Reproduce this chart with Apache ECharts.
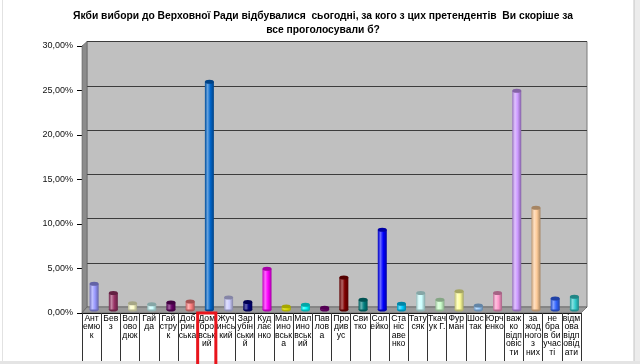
<!DOCTYPE html>
<html><head><meta charset="utf-8">
<script src="https://cdn.jsdelivr.net/npm/echarts@6/dist/echarts.min.js"></script>
<style>html,body{margin:0;padding:0;background:#fff}#c{width:640px;height:364px}</style>
</head><body><div id="c"></div>
<script>
const titleText = 'Якби вибори до Верховної Ради відбувалися  сьогодні, за кого з цих претендентів  Ви скоріше за\nвсе проголосували б?';
const categories = ['Ант\nемю\nк','Бев\nз','Вол\nово\nдюк','Гай\nда','Гай\nстру\nк','Доб\nрин\nська','Дом\nбро\nвськ\nий','Жуч\nинсь\nкий','Зар\nубін\nськи\nй','Куд\nлає\nнко','Мал\nино\nвськ\nа','Мал\nино\nвськ\nий','Пав\nлов\nа','Про\nдив\nус','Сви\nтко','Сол\nейко','Ста\nніс\nаве\nнко','Тату\nсяк','Ткач\nук Г.','Фур\nман','Шос\nтак','Юрч\nенко','важ\nко\nвідп\nовіс\nти','за\nжод\nного\nз\nних','не\nбра\nв би\nучас\nті','відм\nова\nвідп\nовід\nати'];
const values = [2.9,1.85,0.7,0.6,0.8,0.9,25.7,1.35,0.85,4.6,0.35,0.55,0.2,3.6,1.1,9.0,0.65,1.85,1.1,2.05,0.45,1.85,24.7,11.5,1.25,1.45];
const colors = ['#9999FF','#993366','#FFFFCC','#CCFFFF','#660066','#FF8080','#0066CC','#CCCCFF','#000080','#FF00FF','#FFFF00','#00FFFF','#800080','#800000','#008080','#0000FF','#00CCFF','#CCFFFF','#CCFFCC','#FFFF99','#99CCFF','#FF99CC','#CC99FF','#FFCC99','#3366FF','#33CCCC'];
const yMin = 0, yMax = 30, yStep = 5;
const highlightedIndex = 6;

// 3D box geometry (front plane and back plane)
const F = {l: 82, r: 581, t: 46, b: 313};
const B = {l: 87, r: 587, t: 41.5, b: 307};
const M = {l: 84.5, r: 584, t: 43.75, b: 309.5};

function mix(hex, target, amt) {
  const n = parseInt(hex.slice(1), 16);
  let r = (n >> 16) & 255, g = (n >> 8) & 255, b = n & 255;
  r = Math.round(r + (target - r) * amt);
  g = Math.round(g + (target - g) * amt);
  b = Math.round(b + (target - b) * amt);
  return 'rgb(' + r + ',' + g + ',' + b + ')';
}
function cyl(c) {
  return new echarts.graphic.LinearGradient(0, 0, 1, 0, [
    {offset: 0, color: mix(c, 0, 0.25)},
    {offset: 0.3, color: mix(c, 255, 0.4)},
    {offset: 0.6, color: c},
    {offset: 1, color: mix(c, 0, 0.35)}
  ]);
}

const W = 640, H = 364;
const chart = echarts.init(document.getElementById('c'), null, {renderer: 'canvas'});
const fontFam = '"Liberation Sans", Arial, sans-serif';

const option = {
  animation: false,
  backgroundColor: '#ffffff',
  title: {
    text: titleText, left: 318, textAlign: 'center', top: 4,
    textStyle: {fontFamily: fontFam, fontSize: 10.3, fontWeight: 'bold', color: '#000', lineHeight: 14}
  },
  graphic: [
    {type: 'rect', z: -10, silent: true, shape: {x: 634, y: 0, width: 6, height: H}, style: {fill: '#ececec'}},
    {type: 'rect', z: -10, silent: true, shape: {x: 0, y: 361, width: W, height: 3}, style: {fill: '#e4e4e4'}},
    {type: 'line', z: -9, silent: true, shape: {x1: 634, y1: 0, x2: 634, y2: 361}, style: {stroke: '#c4c4c4', lineWidth: 1}},
    {type: 'line', z: -9, silent: true, shape: {x1: 2.5, y1: 0, x2: 2.5, y2: 361}, style: {stroke: '#e2e2e2', lineWidth: 1}},
    // left wall
    {type: 'polygon', z: 1, silent: true, shape: {points: [[F.l, F.t], [B.l, B.t], [B.l, B.b], [F.l, F.b]]}, style: {fill: '#8c8c8c', stroke: '#606060', lineWidth: 0.6}},
    // floor
    {type: 'polygon', z: 1, silent: true, shape: {points: [[F.l, F.b], [B.l, B.b], [B.r, B.b], [F.r, F.b]]}, style: {fill: '#9a9a9a', stroke: '#505050', lineWidth: 0.6}}
  ],
  grid: [
    {left: B.l, right: W - B.r, top: B.t, bottom: H - B.b, show: true, backgroundColor: '#c0c0c0', borderColor: '#7a7a7a', borderWidth: 1, z: 0},
    {left: F.l, right: W - F.r, top: F.t, bottom: H - F.b, z: 3},
    {left: M.l, right: W - M.r, top: M.t, bottom: H - M.b, z: 2}
  ],
  xAxis: [
    {gridIndex: 0, type: 'category', data: categories, show: false},
    {gridIndex: 1, type: 'category', data: categories, position: 'bottom',
      axisLine: {show: true, lineStyle: {color: '#000', width: 1}},
      axisTick: {show: true, length: 48, lineStyle: {color: '#333', width: 1}},
      axisLabel: {interval: 0, margin: 1.5, fontFamily: fontFam, fontSize: 8.6, lineHeight: 8.4, color: '#000', verticalAlign: 'top'}
    },
    {gridIndex: 2, type: 'category', data: categories, show: false}
  ],
  yAxis: [
    {gridIndex: 0, type: 'value', min: yMin, max: yMax, interval: yStep,
      axisLine: {show: false}, axisTick: {show: false}, axisLabel: {show: false},
      splitLine: {show: true, lineStyle: {color: '#3c3c3c', width: 1}}},
    {gridIndex: 1, type: 'value', min: yMin, max: yMax, interval: yStep,
      axisLine: {show: true, lineStyle: {color: '#000'}},
      axisTick: {show: true, length: 5, lineStyle: {color: '#000'}},
      splitLine: {show: false},
      axisLabel: {margin: 9, fontFamily: fontFam, fontSize: 9, color: '#111',
        formatter: v => v.toFixed(2).replace('.', ',') + '%'}},
    {gridIndex: 2, type: 'value', min: yMin, max: yMax, interval: yStep, show: false}
  ],
  series: [
    {type: 'bar', xAxisIndex: 2, yAxisIndex: 2, data: values, barWidth: 9, barGap: '-100%', z: 4,
      itemStyle: {color: p => cyl(colors[p.dataIndex])}},
    {type: 'pictorialBar', xAxisIndex: 2, yAxisIndex: 2, data: values, barWidth: 9, barGap: '-100%', z: 5,
      symbol: 'circle', symbolSize: [9, 4], symbolPosition: 'end', symbolOffset: [0, '-50%'],
      itemStyle: {color: p => mix(colors[p.dataIndex], 0, 0.35)}},
    {type: 'pictorialBar', xAxisIndex: 2, yAxisIndex: 2, data: values, barWidth: 9, barGap: '-100%', z: 3,
      symbol: 'circle', symbolSize: [9, 4], symbolPosition: 'start', symbolOffset: [0, '50%'],
      itemStyle: {color: p => mix(colors[p.dataIndex], 0, 0.3)}}
  ]
};
chart.setOption(option);

// red highlight frame around the selected category label
const cx = chart.convertToPixel({xAxisIndex: 1}, categories[highlightedIndex]);
const bw = (F.r - F.l) / categories.length;
chart.setOption({graphic: option.graphic.concat([
  {type: 'rect', z: 20, silent: true,
    shape: {x: cx - bw / 2 + 0.5, y: F.b, width: bw - 1, height: H - F.b + 4},
    style: {fill: 'none', stroke: '#e8141c', lineWidth: 3}}
])});
</script>
</body></html>
